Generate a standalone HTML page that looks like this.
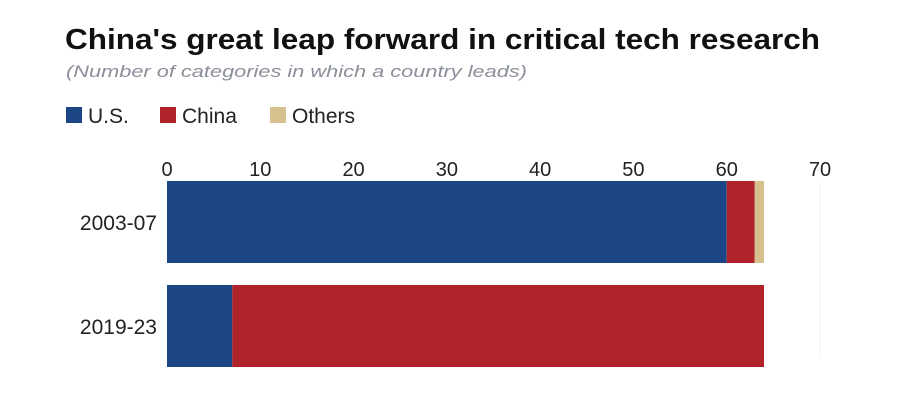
<!DOCTYPE html>
<html><head><meta charset="utf-8"><style>
body{margin:0;background:#fff;width:913px;height:410px;overflow:hidden;font-family:"Liberation Sans",Arial,sans-serif}
</style></head><body>
<svg width="913" height="410" xmlns="http://www.w3.org/2000/svg">
<text x="65" y="49" font-size="29" font-weight="bold" fill="#111" textLength="755" lengthAdjust="spacingAndGlyphs">China's great leap forward in critical tech research</text>
<text x="66" y="77" font-size="17" font-style="italic" fill="#8a8f99" textLength="461" lengthAdjust="spacingAndGlyphs">(Number of categories in which a country leads)</text>
<g id="legend"></g>
<g id="axis"></g>
<g id="bars"></g>
</svg>
<script>
const categories = ["2003-07", "2019-23"];
const usValues = [60, 7];
const chinaValues = [3, 57];
const otherValues = [1, 0];
const tickLabels = [0, 10, 20, 30, 40, 50, 60, 70];
const seriesNames = ["U.S.", "China", "Others"];
const colors = ["#1b4585", "#b0232a", "#d6c08e"];
const NS = "http://www.w3.org/2000/svg";
const x0 = 167, x1 = 820, xmax = 70;
const xs = v => x0 + (x1 - x0) * v / xmax;
const rowTop = [181, 285], barH = 82;
function el(t, a, p){const e=document.createElementNS(NS,t);for(const k in a)e.setAttribute(k,a[k]);p.appendChild(e);return e;}
const leg = document.getElementById('legend');
const legX = [66, 160, 270];
seriesNames.forEach((n,i)=>{
  const g = el('g',{},leg);
  
  
  el('rect',{x:legX[i],y:107,width:16,height:16,fill:colors[i]},g);
  const t = el('text',{x:legX[i]+22,y:123,'font-size':21,fill:'#222'},g);
  t.textContent = n;
});
const ax = document.getElementById('axis');
tickLabels.forEach(v=>{
  if(v===xmax){
    const gl = el('line',{x1:xs(v),x2:xs(v),y1:182,y2:358,stroke:'#f0f2f6','stroke-width':1},ax);
    
    
  }
  const t = el('text',{x:xs(v),y:176,'font-size':20,fill:'#222','text-anchor':'middle'},ax);
  
  
  t.textContent = v;
});
const bars = document.getElementById('bars');
categories.forEach((c,i)=>{
  const y = rowTop[i];
  const lab = el('text',{x:157,y:y+barH/2+8,'font-size':21,fill:'#222','text-anchor':'end'},bars);
  
  
  lab.textContent = c;
  let acc = 0;
  [usValues[i], chinaValues[i], otherValues[i]].forEach((v,j)=>{
    if(v<=0) return;
    const r = el('rect',{x:xs(acc),y:y,width:xs(acc+v)-xs(acc),height:barH,fill:colors[j]},bars);
    
    
    acc += v;
  });
});
</script>
</body></html>
